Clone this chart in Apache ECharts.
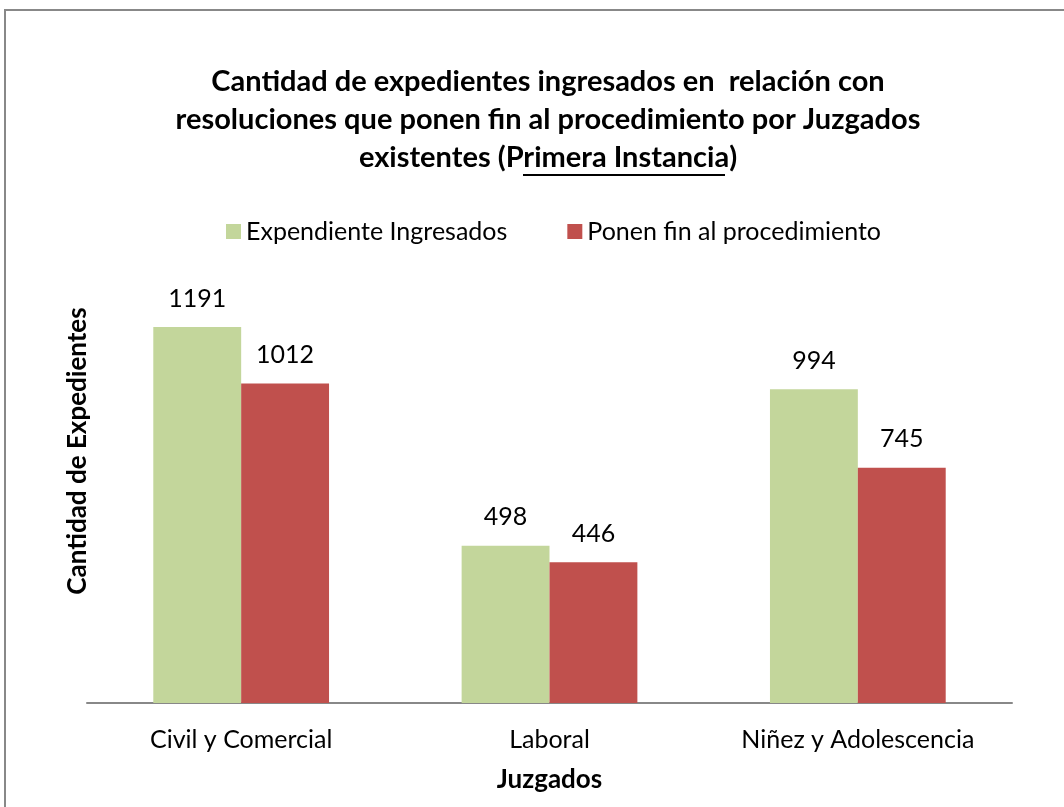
<!DOCTYPE html>
<html>
<head>
<meta charset="utf-8">
<script src="https://cdn.jsdelivr.net/npm/echarts@6/dist/echarts.min.js"></script>
<style>
  html, body { margin: 0; padding: 0; background: #fff; }
  #chart { width: 1064px; height: 807px; }
</style>
</head>
<body>
<div id="chart"></div>
<script>
// datos del gráfico
const categorias = ["Civil y Comercial", "Laboral", "Niñez y Adolescencia"];
const ingresados = [1191, 498, 994];
const finProcedimiento = [1012, 446, 745];
const nombresSeries = ["Expendiente Ingresados", "Ponen fin al procedimiento"];

const fuente = "Lato, 'Open Sans', sans-serif";

const chart = echarts.init(document.getElementById("chart"));

chart.setOption({
  backgroundColor: "#fff",
  textStyle: { fontFamily: fuente, color: "#000" },
  title: {
    text: "Cantidad de expedientes ingresados en  relación con\nresoluciones que ponen fin al procedimiento por Juzgados\nexistentes ({u|Primera Instancia})",
    left: 543,
    textAlign: "center",
    top: 58,
    textStyle: {
      fontSize: 29,
      fontWeight: "bold",
      lineHeight: 38,
      color: "#000",
      rich: {
        u: { fontSize: 29, fontWeight: "bold", lineHeight: 38, color: "#000" }
      }
    }
  },
  legend: {
    top: 214,
    left: 221,
    itemWidth: 15,
    itemHeight: 15,
    itemGap: 60,
    icon: "rect",
    textStyle: { fontSize: 25, color: "#000", fontFamily: fuente }
  },
  grid: { left: 87, right: 52, top: 261, bottom: 104 },
  xAxis: {
    type: "category",
    data: categorias,
    name: "Juzgados",
    nameLocation: "middle",
    nameGap: 64,
    nameTextStyle: { fontSize: 26, fontWeight: "bold", color: "#000" },
    axisLine: { lineStyle: { color: "#888", width: 2 } },
    axisTick: { show: false },
    axisLabel: { fontSize: 25, color: "#000", margin: 24 }
  },
  yAxis: {
    type: "value",
    min: 0,
    max: 1400,
    show: false
  },
  series: [
    {
      name: nombresSeries[0],
      type: "bar",
      data: ingresados,
      barGap: "0%",
      barCategoryGap: "43%",
      itemStyle: { color: "#C3D69B" },
      label: { show: true, position: "top", distance: 16, fontSize: 25, color: "#000" }
    },
    {
      name: nombresSeries[1],
      type: "bar",
      data: finProcedimiento,
      itemStyle: { color: "#C0504D" },
      label: { show: true, position: "top", distance: 16, fontSize: 25, color: "#000" }
    }
  ],
  graphic: [
    {
      // borde del área del gráfico
      type: "rect",
      shape: { x: 5, y: 10, width: 1200, height: 1000 },
      style: { fill: "none", stroke: "#888", lineWidth: 2 },
      silent: true
    },
    {
      // subrayado de "Primera Instancia"
      type: "rect",
      shape: { x: 523, y: 174, width: 202, height: 2 },
      style: { fill: "#000" },
      silent: true
    },
    {
      // título del eje vertical
      type: "text",
      x: 78,
      y: 451,
      rotation: Math.PI / 2,
      style: {
        text: "Cantidad de Expedientes",
        fontSize: 26,
        fontWeight: "bold",
        fontFamily: fuente,
        fill: "#000",
        align: "center",
        verticalAlign: "middle"
      }
    }
  ]
});
</script>
</body>
</html>
